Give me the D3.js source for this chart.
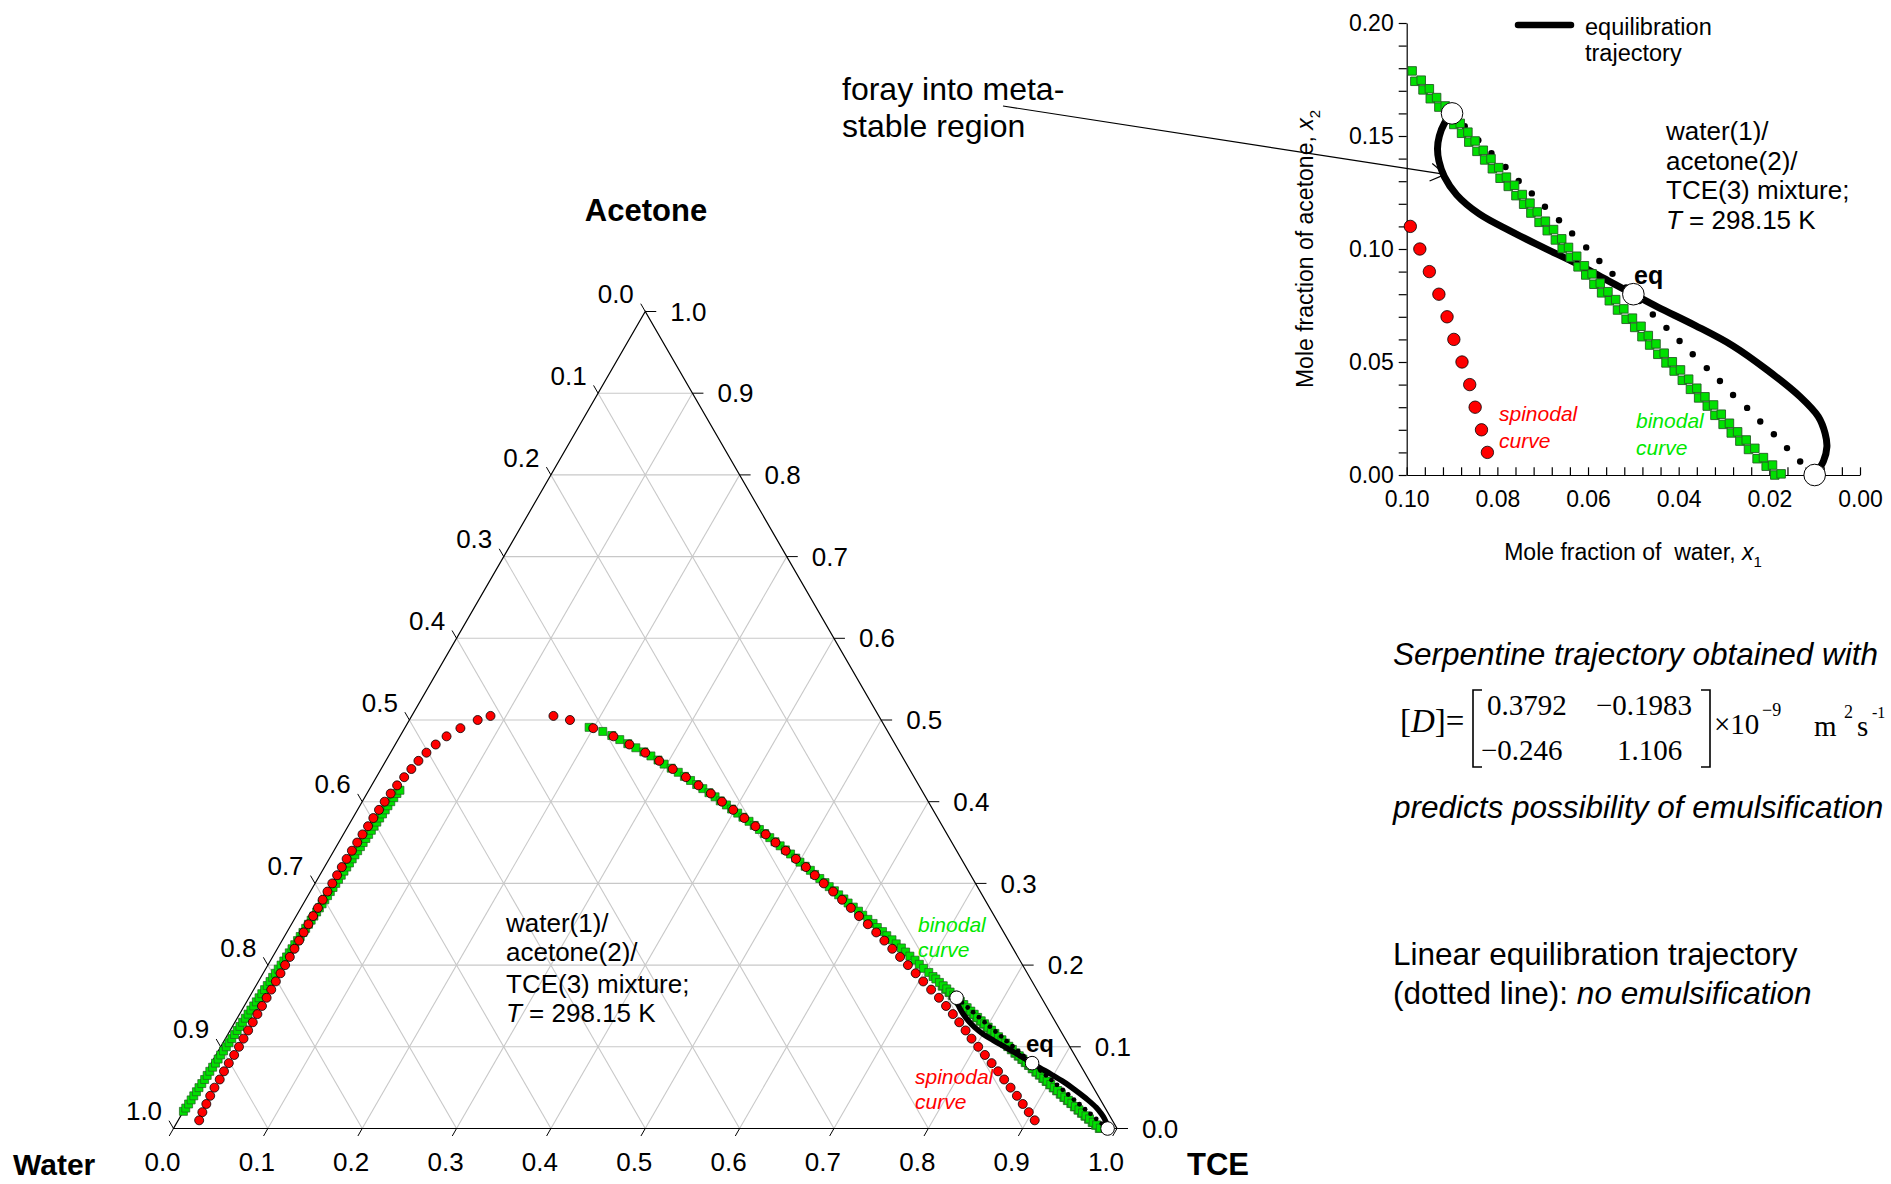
<!DOCTYPE html>
<html><head><meta charset="utf-8">
<script src="https://cdn.jsdelivr.net/npm/d3@7"></script>
<style>
body{margin:0;background:#fff;}
svg{display:block;font-family:"Liberation Sans",Arial,sans-serif;}
</style></head><body>
<svg id="chart" width="1891" height="1184"></svg>
<script>
// ---------------- DATA ----------------
// ternary tick values / labels
const ternTicks = [0,0.1,0.2,0.3,0.4,0.5,0.6,0.7,0.8,0.9,1.0];
const ternTickLabels = ["0.0","0.1","0.2","0.3","0.4","0.5","0.6","0.7","0.8","0.9","1.0"];
const gridVals = [0.1,0.2,0.3,0.4,0.5,0.6,0.7,0.8,0.9];

// binodal, water-rich branch: acetone x2 and TCE x3
const binodalLeftAcetone = [0.021,0.025,0.030,0.035,0.040,0.045,0.050,0.055,0.060,0.065,
 0.070,0.075,0.080,0.085,0.090,0.095,0.100,0.105,0.110,0.115,
 0.120,0.125,0.130,0.135,0.140,0.145,0.150,0.155,0.160,0.165,
 0.170,0.175,0.180,0.185,0.190,0.195,0.200,0.205,0.210,0.215,
 0.220,0.225,0.230,0.235,0.240,0.245,0.250,0.255,0.260,0.265,
 0.270,0.275,0.280,0.285,0.290,0.295,0.300,0.305,0.310,0.315,
 0.320,0.325,0.330,0.335,0.340,0.345,0.350,0.355,0.360,0.365,
 0.370,0.375,0.380,0.385,0.390,0.395,0.400,0.405,0.410,0.414];
const binodalLeftTCE = [0.0000,0.0005,0.0010,0.0012,0.0015,0.0018,0.0020,0.0025,0.0030,0.0032,
 0.0035,0.0040,0.0045,0.0048,0.0050,0.0055,0.0060,0.0064,0.0068,0.0072,
 0.0075,0.0079,0.0083,0.0086,0.0090,0.0095,0.0100,0.0103,0.0107,0.0111,
 0.0115,0.0119,0.0123,0.0126,0.0130,0.0135,0.0140,0.0144,0.0148,0.0152,
 0.0156,0.0160,0.0164,0.0168,0.0172,0.0176,0.0180,0.0184,0.0188,0.0192,
 0.0196,0.0200,0.0204,0.0208,0.0212,0.0216,0.0220,0.0224,0.0228,0.0232,
 0.0236,0.0240,0.0244,0.0248,0.0252,0.0256,0.0260,0.0264,0.0268,0.0272,
 0.0276,0.0280,0.0285,0.0290,0.0294,0.0298,0.0303,0.0310,0.0318,0.0330];

// binodal, TCE-rich branch: acetone x2 and water x1
const binodalRightAcetone = [0.491,0.486,0.481,0.476,0.471,0.466,0.461,0.456,0.451,0.446,
 0.441,0.436,0.431,0.426,0.421,0.416,0.411,0.406,0.401,0.396,
 0.391,0.386,0.381,0.376,0.371,0.366,0.361,0.356,0.351,0.346,
 0.341,0.336,0.331,0.326,0.321,0.316,0.311,0.306,0.301,0.296,
 0.291,0.286,0.281,0.276,0.271,0.266,0.261,0.256,0.251,0.246,
 0.241,0.236,0.231,0.226,0.221,0.216,0.211,0.206,0.201,0.196,
 0.191,0.186,0.183,
 0.1788,0.1747,0.1709,0.1670,0.1633,0.1595,0.1556,0.1517,0.1478,0.1437,
 0.1399,0.1360,0.1318,0.1282,0.1241,0.1203,0.1164,0.1123,0.1086,0.1045,
 0.1007,0.0968,0.0926,0.0890,0.0849,0.0811,0.0776,0.0735,0.0694,0.0658,
 0.0617,0.0580,0.0539,0.0501,0.0465,0.0424,0.0384,0.0346,0.0310,0.0269,
 0.0229,0.0191,0.0155,0.0118,0.0077,0.0044,0.0005];
const binodalRightWater = [0.314,0.302,0.295,0.289,0.283,0.277,0.271,0.266,0.261,0.257,
 0.252,0.247,0.243,0.239,0.235,0.231,0.227,0.223,0.220,0.216,
 0.213,0.209,0.206,0.202,0.199,0.196,0.193,0.190,0.187,0.184,
 0.181,0.178,0.175,0.173,0.170,0.167,0.165,0.162,0.159,0.157,
 0.154,0.152,0.149,0.147,0.144,0.141,0.139,0.136,0.133,0.131,
 0.128,0.126,0.123,0.121,0.118,0.116,0.114,0.111,0.109,0.107,
 0.104,0.102,0.1005,
 0.0988,0.0968,0.0950,0.0934,0.0915,0.0897,0.0882,0.0865,0.0849,0.0831,
 0.0814,0.0797,0.0780,0.0762,0.0745,0.0728,0.0712,0.0694,0.0676,0.0658,
 0.0643,0.0625,0.0608,0.0591,0.0573,0.0556,0.0539,0.0521,0.0502,0.0483,
 0.0467,0.0450,0.0432,0.0414,0.0396,0.0378,0.0360,0.0342,0.0323,0.0306,
 0.0288,0.0270,0.0251,0.0232,0.0213,0.0193,0.0174];
// second (companion) row of binodal squares seen beside the first near the TCE corner
const binodalRight2Acetone = [0.1742,0.1704,0.1665,0.1628,0.1590,0.1551,0.1512,0.1473,0.1432,0.1394,
 0.1355,0.1313,0.1277,0.1236,0.1198,0.1159,0.1118,0.1081,0.1040,0.1002,
 0.0963,0.0921,0.0885,0.0844,0.0806,0.0771,0.0730,0.0689,0.0653,0.0612,
 0.0575,0.0534,0.0496,0.0460,0.0419,0.0379,0.0341,0.0305,0.0264,0.0224,
 0.0186,0.0150,0.0113,0.0072,0.0039,0.0000];
const binodalRight2Water = [0.0982,0.0964,0.0948,0.0929,0.0911,0.0896,0.0879,0.0863,0.0845,0.0828,
 0.0811,0.0794,0.0776,0.0759,0.0742,0.0726,0.0708,0.0690,0.0672,0.0657,
 0.0639,0.0622,0.0605,0.0587,0.0570,0.0553,0.0535,0.0516,0.0497,0.0481,
 0.0464,0.0446,0.0428,0.0410,0.0392,0.0374,0.0356,0.0337,0.0320,0.0302,
 0.0284,0.0265,0.0246,0.0227,0.0207,0.0188];

// spinodal, water-rich branch: acetone x2 and TCE x3
const spinodalLeftAcetone = [0.505,0.500,0.490,0.480,0.470,0.460,0.450,0.440,0.430,0.420,
 0.410,0.400,0.390,0.380,0.370,0.360,0.350,0.340,0.330,0.320,
 0.310,0.300,0.290,0.280,0.270,0.260,0.250,0.240,0.230,0.220,
 0.210,0.200,0.190,0.180,0.170,0.160,0.150,0.140,0.130,0.120,
 0.110,0.100,0.090,0.080,0.070,0.060,0.050,0.040,0.030,0.020,0.010];
const spinodalLeftTCE = [0.0835,0.0724,0.0591,0.0494,0.0429,0.0381,0.0346,0.0321,0.0295,0.0270,
 0.0252,0.0238,0.0228,0.0218,0.0212,0.0203,0.0197,0.0191,0.0185,0.0184,
 0.0184,0.0183,0.0182,0.0181,0.0181,0.0180,0.0180,0.0180,0.0181,0.0182,
 0.0183,0.0183,0.0184,0.0185,0.0186,0.0187,0.0188,0.0189,0.0190,0.0191,
 0.0192,0.0194,0.0193,0.0186,0.0185,0.0190,0.0184,0.0189,0.0198,0.0206,0.0222];

// spinodal, TCE-rich branch: acetone x2 and water x1
const spinodalRightAcetone = [0.505,0.500,0.490,0.480,0.470,0.460,0.450,0.440,0.430,0.420,
 0.410,0.400,0.390,0.380,0.370,0.360,0.350,0.340,0.330,0.320,
 0.310,0.300,0.290,0.280,0.270,0.260,0.250,0.240,0.230,0.220,
 0.210,0.200,0.190,0.180,0.170,0.160,0.150,0.140,0.130,0.120,
 0.110,0.100,0.090,0.080,0.070,0.060,0.050,0.040,0.030,0.020,0.010];
const spinodalRightWater = [0.3448,0.3298,0.3101,0.2937,0.2818,0.2700,0.2602,0.2509,0.2419,0.2336,
 0.2255,0.2187,0.2118,0.2050,0.1982,0.1923,0.1869,0.1811,0.1753,0.1697,
 0.1653,0.1608,0.1559,0.1514,0.1471,0.1434,0.1391,0.1352,0.1316,0.1282,
 0.1249,0.1216,0.1184,0.1154,0.1120,0.1087,0.1062,0.1040,0.1022,0.1005,
 0.0992,0.0971,0.0950,0.0929,0.0911,0.0896,0.0878,0.0861,0.0849,0.0835,0.0822];

// serpentine equilibration trajectory (water x1, acetone x2)
const trajectoryWater = [0.0900,0.0917,0.0928,0.0932,0.0929,0.0917,0.0890,0.0840,0.0772,0.0697,
 0.0622,0.0556,0.0500,0.0446,0.0363,0.0280,0.0205,0.0132,0.0092,0.0077,0.0073,0.0081,0.0101];
const trajectoryAcetone = [0.1600,0.1555,0.1500,0.1445,0.1390,0.1320,0.1240,0.1155,0.1080,0.1005,
 0.0932,0.0860,0.0800,0.0743,0.0661,0.0571,0.0465,0.0346,0.0258,0.0184,0.0125,0.0059,0.0000];

// linear (dotted) trajectory
const linearWater = [0.0872,0.0842,0.0813,0.0782,0.0753,0.0724,0.0695,0.0664,0.0635,0.0604,
 0.0575,0.0546,0.0516,0.0487,0.0457,0.0427,0.0398,0.0369,0.0338,0.0309,
 0.0280,0.0249,0.0220,0.0190,0.0161,0.0132];
const linearAcetone = [0.1543,0.1481,0.1424,0.1363,0.1301,0.1246,0.1187,0.1127,0.1069,0.1007,
 0.0947,0.0890,0.0830,0.0770,0.0710,0.0651,0.0593,0.0534,0.0473,0.0416,
 0.0354,0.0297,0.0237,0.0180,0.0119,0.0060];

// initial / equilibrium / final compositions
const keyWater = [0.09,0.05,0.01];
const keyAcetone = [0.16,0.08,0.00];

// inset axes
const insetYTicks = [0,0.01,0.02,0.03,0.04,0.05,0.06,0.07,0.08,0.09,0.10,0.11,0.12,0.13,0.14,0.15,0.16,0.17,0.18,0.19,0.20];
const insetYLabels = ["0.00","0.05","0.10","0.15","0.20"];
const insetXTicks = [0.100,0.096,0.092,0.088,0.084,0.080,0.076,0.072,0.068,0.064,0.060,0.056,0.052,0.048,0.044,0.040,0.036,0.032,0.028,0.024,0.020,0.016,0.012,0.008,0.004,0.000];
const insetXLabels = ["0.10","0.08","0.06","0.04","0.02","0.00"];

// ---------------- DRAW ----------------
const svg = d3.select("#chart");
const GREEN = "#00e000", GREENTXT = "#00e800", RED = "#ff0000";

// ternary geometry via scales
const tX = d3.scaleLinear().domain([0,1]).range([173.5,1117]);
const tY = d3.scaleLinear().domain([0,1]).range([1128.5,311.5]);
function tern(x1,x2){ const x3 = 1-x1-x2; return [tX(x3 + x2/2), tY(x2)]; }

const T = svg.append("g");
// grid
gridVals.forEach(v=>{
  const segs = [
    [tern(1-v,v), tern(0,v)],            // acetone = v
    [tern(1-v,0), tern(0,1-v)],          // TCE = v
    [tern(v,0), tern(v,1-v)]             // water = v
  ];
  segs.forEach(s=>T.append("line").attr("x1",s[0][0]).attr("y1",s[0][1]).attr("x2",s[1][0]).attr("y2",s[1][1])
    .attr("stroke","#c8c8c8").attr("stroke-width",1.1));
});
// outline
const corners = [tern(1,0), tern(0,0), tern(0,1)];
T.append("path").attr("d", d3.line()(corners)+"Z").attr("fill","none").attr("stroke","#000").attr("stroke-width",1.2);

// ticks + labels
const tickFont = 26;
ternTicks.forEach((v,i)=>{
  // bottom (TCE)
  let p = tern(1-v,0);
  T.append("line").attr("x1",p[0]).attr("y1",p[1]).attr("x2",p[0]-4.3).attr("y2",p[1]+7.5).attr("stroke","#000");
  T.append("text").attr("x",p[0]-11).attr("y",1162).attr("dy","0.35em").attr("text-anchor","middle")
    .attr("font-size",tickFont).text(ternTickLabels[i]);
  // left (water)
  p = tern(v,1-v);
  T.append("line").attr("x1",p[0]).attr("y1",p[1]).attr("x2",p[0]-4.5).attr("y2",p[1]-7.8).attr("stroke","#000");
  T.append("text").attr("x",p[0]-29.5).attr("y",p[1]-17.5).attr("dy","0.35em").attr("text-anchor","middle")
    .attr("font-size",tickFont).text(ternTickLabels[i]);
  // right (acetone)
  p = tern(0,v);
  T.append("line").attr("x1",p[0]).attr("y1",p[1]).attr("x2",p[0]+11).attr("y2",p[1]).attr("stroke","#000");
  T.append("text").attr("x",p[0]+25).attr("y",p[1]).attr("dy","0.35em").attr("text-anchor","start")
    .attr("font-size",tickFont).text(ternTickLabels[i]);
});
// corner labels
T.append("text").attr("x",646).attr("y",210).attr("dy","0.35em").attr("text-anchor","middle").attr("font-size",31).attr("font-weight","bold").text("Acetone");
T.append("text").attr("x",13).attr("y",1164).attr("dy","0.35em").attr("text-anchor","start").attr("font-size",30).attr("font-weight","bold").text("Water");
T.append("text").attr("x",1218).attr("y",1164).attr("dy","0.35em").attr("text-anchor","middle").attr("font-size",31).attr("font-weight","bold").text("TCE");

// annotation
const annT = T.append("text").attr("font-size",26);
["water(1)/","acetone(2)/","TCE(3) mixture;"].forEach((s,i)=>{
  annT.append("tspan").attr("x",506).attr("y",[932,961,992.5][i]).text(s);
});
const t4 = annT.append("tspan").attr("x",506).attr("y",1021.5);
t4.append("tspan").attr("font-style","italic").text("T");
annT.append("tspan").text(" = 298.15 K");

// ternary symbols
const sq = s => d3.symbol().type(d3.symbolSquare).size(s*s)();
const binL = binodalLeftAcetone.map((a,i)=>tern(1-a-binodalLeftTCE[i],a));
const binR = binodalRightAcetone.map((a,i)=>tern(binodalRightWater[i],a));
const binR2 = binodalRight2Acetone.map((a,i)=>tern(binodalRight2Water[i],a));
T.append("g").selectAll("path").data(binL.concat(binR2, binR)).join("path")
  .attr("d",sq(8)).attr("transform",d=>`translate(${d[0]},${d[1]})`)
  .attr("fill",GREEN).attr("stroke","#245c24").attr("stroke-width",0.7);
const spL = spinodalLeftAcetone.map((a,i)=>tern(1-a-spinodalLeftTCE[i],a));
const spR = spinodalRightAcetone.map((a,i)=>tern(spinodalRightWater[i],a));
T.append("g").selectAll("circle").data(spL.concat(spR)).join("circle")
  .attr("cx",d=>d[0]).attr("cy",d=>d[1]).attr("r",4.5)
  .attr("fill",RED).attr("stroke","#000").attr("stroke-width",0.8);
T.append("g").selectAll("circle").data(linearWater.map((w,i)=>tern(w,linearAcetone[i]))).join("circle")
  .attr("cx",d=>d[0]).attr("cy",d=>d[1]).attr("r",2.4).attr("fill","#000");
T.append("path").attr("d",d3.line().curve(d3.curveCatmullRom)(trajectoryWater.map((w,i)=>tern(w,trajectoryAcetone[i]))))
  .attr("fill","none").attr("stroke","#000").attr("stroke-width",5.5);
T.append("g").selectAll("circle").data(keyWater.map((w,i)=>tern(w,keyAcetone[i]))).join("circle")
  .attr("cx",d=>d[0]).attr("cy",d=>d[1]).attr("r",6.8).attr("fill","#fff").attr("stroke","#000").attr("stroke-width",1);
T.append("text").attr("x",1026).attr("y",1044).attr("dy","0.35em").attr("font-size",24).attr("font-weight","bold").text("eq");
const bt = T.append("text").attr("font-size",21).attr("font-style","italic").attr("fill",GREENTXT);
bt.append("tspan").attr("x",918).attr("y",932).text("binodal");
bt.append("tspan").attr("x",918).attr("y",957).text("curve");
const st = T.append("text").attr("font-size",21).attr("font-style","italic").attr("fill",RED);
st.append("tspan").attr("x",915).attr("y",1084).text("spinodal");
st.append("tspan").attr("x",915).attr("y",1109).text("curve");

// ---------------- INSET ----------------
const xI = d3.scaleLinear().domain([0.1,0]).range([1406.7,1860]);
const yI = d3.scaleLinear().domain([0,0.2]).range([475,23]);
const I = svg.append("g");
const fmt2 = d3.format(".2f");
const yAx = I.append("g").attr("transform",`translate(${xI(0.1)},0)`)
  .call(d3.axisLeft(yI).tickValues(insetYTicks).tickSize(8).tickSizeOuter(0).tickPadding(5)
    .tickFormat(d=>insetYLabels.includes(fmt2(d)) && Math.abs(d*100 - Math.round(d*20)*5) < 1e-6 ? fmt2(d) : ""));
const xAx = I.append("g").attr("transform",`translate(0,${yI(0)})`)
  .call(d3.axisBottom(xI).tickValues(insetXTicks).tickSizeInner(-7.7).tickSizeOuter(0).tickPadding(16)
    .tickFormat(d=>{ const s = fmt2(d); return (insetXLabels.includes(s) && Math.abs(d*1000 - Math.round(d*50)*20) < 1e-6) ? s : ""; }));
[yAx,xAx].forEach(a=>{
  a.attr("font-size",23).attr("font-family","Liberation Sans, Arial, sans-serif");
  a.selectAll("path,line").attr("stroke","#000").attr("stroke-width",1.2);
  a.selectAll("text").attr("fill","#000");
});
// axis titles
const xt = I.append("text").attr("x",1633).attr("y",552).attr("dy","0.35em").attr("text-anchor","middle").attr("font-size",23);
xt.append("tspan").text("Mole fraction of\u00a0 water, ");
xt.append("tspan").attr("font-style","italic").text("x");
xt.append("tspan").attr("font-size",15).attr("dy",7).text("1");
const yt = I.append("text").attr("transform","translate(1305,249) rotate(-90)").attr("dy","0.35em").attr("text-anchor","middle").attr("font-size",23);
yt.append("tspan").text("Mole fraction of acetone, ");
yt.append("tspan").attr("font-style","italic").text("x");
yt.append("tspan").attr("font-size",15).attr("dy",7).text("2");

// inset data
const inDom = (w,a)=> w<=0.1001 && a<=0.2001;
const binIn = binodalRight2Acetone.map((a,i)=>[binodalRight2Water[i],a])
  .concat(binodalRightAcetone.map((a,i)=>[binodalRightWater[i],a])).filter(d=>inDom(d[0],d[1]));
const spIn = spinodalRightAcetone.map((a,i)=>[spinodalRightWater[i],a]).filter(d=>inDom(d[0],d[1]));
I.append("g").selectAll("circle").data(linearWater.map((w,i)=>[w,linearAcetone[i]])).join("circle")
  .attr("cx",d=>xI(d[0])).attr("cy",d=>yI(d[1])).attr("r",3.2).attr("fill","#000");
I.append("path").attr("d",d3.line().curve(d3.curveCatmullRom).x(d=>xI(d[0])).y(d=>yI(d[1]))(trajectoryWater.map((w,i)=>[w,trajectoryAcetone[i]])))
  .attr("fill","none").attr("stroke","#000").attr("stroke-width",7);
I.append("g").selectAll("path").data(binIn).join("path")
  .attr("d",sq(8.5)).attr("transform",d=>`translate(${xI(d[0])},${yI(d[1])})`)
  .attr("fill",GREEN).attr("stroke","#245c24").attr("stroke-width",0.9);
I.append("g").selectAll("circle").data(spIn).join("circle")
  .attr("cx",d=>xI(d[0])).attr("cy",d=>yI(d[1])).attr("r",6.2)
  .attr("fill",RED).attr("stroke","#000").attr("stroke-width",0.8);
I.append("g").selectAll("circle").data(keyWater.map((w,i)=>[w,keyAcetone[i]])).join("circle")
  .attr("cx",d=>xI(d[0])).attr("cy",d=>yI(d[1])).attr("r",10.8).attr("fill","#fff").attr("stroke","#000").attr("stroke-width",1);
I.append("text").attr("x",1634).attr("y",275).attr("dy","0.35em").attr("font-size",25).attr("font-weight","bold").text("eq");
// legend
I.append("line").attr("x1",1518).attr("x2",1571).attr("y1",25).attr("y2",25).attr("stroke","#000").attr("stroke-width",6.5).attr("stroke-linecap","round");
const lg = I.append("text").attr("font-size",23.5);
lg.append("tspan").attr("x",1585).attr("y",34.5).text("equilibration");
lg.append("tspan").attr("x",1585).attr("y",61).text("trajectory");
// inset annotation
const ia = I.append("text").attr("font-size",26);
["water(1)/","acetone(2)/","TCE(3) mixture;"].forEach((s,i)=>{
  ia.append("tspan").attr("x",1666).attr("y",[139.5,169.5,199][i]).text(s);
});
ia.append("tspan").attr("x",1666).attr("y",229).attr("font-style","italic").text("T");
ia.append("tspan").text(" = 298.15 K");
const it1 = I.append("text").attr("font-size",21).attr("font-style","italic").attr("fill",RED);
it1.append("tspan").attr("x",1499).attr("y",420.5).text("spinodal");
it1.append("tspan").attr("x",1499).attr("y",447.5).text("curve");
const it2 = I.append("text").attr("font-size",21).attr("font-style","italic").attr("fill",GREENTXT);
it2.append("tspan").attr("x",1636).attr("y",427.5).text("binodal");
it2.append("tspan").attr("x",1636).attr("y",454.5).text("curve");

// foray annotation + arrow
const fo = svg.append("text").attr("font-size",32);
fo.append("tspan").attr("x",842).attr("y",99.5).text("foray into meta-");
fo.append("tspan").attr("x",842).attr("y",136.5).text("stable region");
const tip = [xI(0.0915), yI(0.133)], start = [1003,106];
svg.append("line").attr("x1",start[0]).attr("y1",start[1]).attr("x2",tip[0]).attr("y2",tip[1]).attr("stroke","#000").attr("stroke-width",1.2);
const ang = Math.atan2(tip[1]-start[1], tip[0]-start[0]);
[-0.55,0.55].forEach(da=>{
  svg.append("line").attr("x1",tip[0]).attr("y1",tip[1])
    .attr("x2",tip[0]-17*Math.cos(ang+da)).attr("y2",tip[1]-17*Math.sin(ang+da))
    .attr("stroke","#000").attr("stroke-width",1.2);
});

// right-hand text
const R = svg.append("g").attr("font-size",31.5);
R.append("text").attr("x",1393).attr("y",664.5).attr("font-style","italic").text("Serpentine trajectory obtained with");
R.append("text").attr("x",1393).attr("y",818).attr("font-style","italic").text("predicts possibility of emulsification");
R.append("text").attr("x",1393).attr("y",965).text("Linear equilibration trajectory");
const dl = R.append("text").attr("x",1393).attr("y",1004);
dl.append("tspan").text("(dotted line): ");
dl.append("tspan").attr("font-style","italic").text("no emulsification");

// matrix equation
const M = svg.append("g").attr("font-family","Liberation Serif, Times New Roman, serif").attr("font-size",29);
const dt = M.append("text").attr("x",1400).attr("y",732).attr("font-size",33);
dt.append("tspan").text("[");
dt.append("tspan").attr("font-style","italic").text("D");
dt.append("tspan").text("]=");
M.append("path").attr("d","M1482,690 L1473,690 L1473,767 L1482,767").attr("fill","none").attr("stroke","#000").attr("stroke-width",1.6);
M.append("path").attr("d","M1701,690 L1710,690 L1710,767 L1701,767").attr("fill","none").attr("stroke","#000").attr("stroke-width",1.6);
M.append("text").attr("x",1487).attr("y",715).text("0.3792");
M.append("text").attr("x",1596).attr("y",715).text("\u22120.1983");
M.append("text").attr("x",1481).attr("y",760).text("\u22120.246");
M.append("text").attr("x",1617).attr("y",760).text("1.106");
M.append("text").attr("x",1714).attr("y",734).text("\u00d710");
M.append("text").attr("x",1762).attr("y",716).attr("font-size",18).text("\u22129");
M.append("text").attr("x",1814).attr("y",736).text("m");
M.append("text").attr("x",1844).attr("y",718).attr("font-size",18).text("2");
M.append("text").attr("x",1857).attr("y",736).text("s");
M.append("text").attr("x",1872).attr("y",718).attr("font-size",16).text("-1");
</script>
</body></html>
